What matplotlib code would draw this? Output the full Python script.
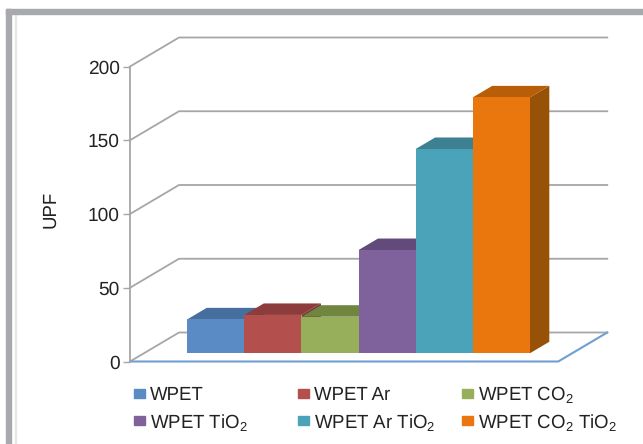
import matplotlib
matplotlib.use("Agg")
import matplotlib.pyplot as plt
from matplotlib.patches import Polygon, Rectangle

plt.rcParams['font.family'] = ['Liberation Sans', 'DejaVu Sans']
plt.rcParams['mathtext.default'] = 'regular'
plt.rcParams['text.hinting'] = 'none'

# data
labels = ['WPET', 'WPET Ar', 'WPET CO$_2$', 'WPET TiO$_2$', 'WPET Ar TiO$_2$', 'WPET CO$_2$ TiO$_2$']
upf = [23, 26, 24.8, 70, 138.5, 173.5]
yticks = [0, 50, 100, 150, 200]
front_col = ['#5A8BC5', '#B3504E', '#97AF5B', '#7F629C', '#4BA3B9', '#E9770E']
top_col = ['#466E9E', '#8C3D3B', '#70853F', '#624B7A', '#3D8092', '#B85D08']
side_col = ['#3A5C85', '#773332', '#5F7136', '#533F67', '#33707F', '#975208']

W, H = 643, 444
GRID = '#A6A6A6'
SLOT = 57.1        # px per bar
PX_Y = 1.475       # px per UPF unit
DX = 49 / SLOT     # oblique shift of the back wall, x
DY = 29 / PX_Y     # oblique shift of the back wall, y
X_END = 7.5        # right end of the floor
BAR0 = 0.76        # left of first bar
D0, D1 = 0.283, 0.68  # bar depth range


def proj(x, v, d):
    return (x + d * DX, v + d * DY)


fig = plt.figure(figsize=(W / 100, H / 100), dpi=100)

# grey frame round the figure, with a thin light line inside it
fig.patches.append(Rectangle((15 / W, 0), 1.2 / W, 1 - 14 / H, transform=fig.transFigure, color='#E6E7E8', zorder=0))
fig.patches.append(Rectangle((6 / W, 0), 5 / W, 1 - 9 / H, transform=fig.transFigure, color='#A7A9AC', zorder=0))
fig.patches.append(Rectangle((6 / W, 1 - 14 / H), 1, 5 / H, transform=fig.transFigure, color='#A7A9AC', zorder=0))

ax = fig.add_axes([130 / W, 1 - 361.5 / H, (607 - 130) / W, 324.5 / H])
ax.set_xlim(0, 477 / SLOT)
ax.set_ylim(0, 324.5 / PX_Y)
ax.patch.set_alpha(0)
for s in ['top', 'right', 'bottom']:
    ax.spines[s].set_visible(False)
ax.spines['left'].set_color(GRID)
ax.spines['left'].set_linewidth(1.3)
ax.spines['left'].set_bounds(0, 200)
ax.set_xticks([])
ax.set_yticks(yticks)
ax.tick_params(axis='y', length=5, width=1, color=GRID, labelsize=13.8, labelcolor='#222222', pad=2.5)
fig.text(50 / W, 1 - 209 / H, 'UPF', rotation=90, fontsize=13.4, color='#222222', ha='center', va='center')

# walls
for v in yticks:
    p0 = proj(0, v, 0)
    p1 = proj(0, v, 1)
    p2 = proj(X_END, v, 1)
    ax.plot([p0[0], p1[0], p2[0]], [p0[1], p1[1], p2[1]], color=GRID, lw=1.3, zorder=1, clip_on=False)

# floor
f0 = proj(0, 0, 0)
f1 = proj(X_END, 0, 0)
f2 = proj(X_END, 0, 1)
ax.plot([f0[0], f1[0], f2[0]], [f0[1], f1[1], f2[1]], color='#6F9FD3', lw=1.5, zorder=2, clip_on=False)

# bars
for i, v in enumerate(upf):
    x0 = BAR0 + i
    x1 = x0 + 1
    z = 3 + i
    front = [proj(x0, 0, D0), proj(x1, 0, D0), proj(x1, v, D0), proj(x0, v, D0)]
    top = [proj(x0, v, D0), proj(x1, v, D0), proj(x1, v, D1), proj(x0, v, D1)]
    side = [proj(x1, 0, D0), proj(x1, 0, D1), proj(x1, v, D1), proj(x1, v, D0)]
    ax.add_patch(Polygon(side, closed=True, fc=side_col[i], ec='none', zorder=z))
    ax.add_patch(Polygon(top, closed=True, fc=top_col[i], ec='none', zorder=z))
    ax.add_patch(Polygon(front, closed=True, fc=front_col[i], ec='none', zorder=z))

# legend, two rows of three
leg_x = [134, 298, 462]
leg_y = [393, 420.5]
for i, name in enumerate(labels):
    px = leg_x[i % 3]
    py = leg_y[i // 3]
    fig.patches.append(Rectangle((px / W, 1 - (py + 4.5) / H), 11 / W, 9 / H, transform=fig.transFigure,
                                 color=front_col[i], zorder=3))
    fig.text((px + 16) / W, 1 - (py + 7.3) / H, name, fontsize=13.4, color='#222222', ha='left', va='baseline')

fig.savefig('out.png', dpi=100)
